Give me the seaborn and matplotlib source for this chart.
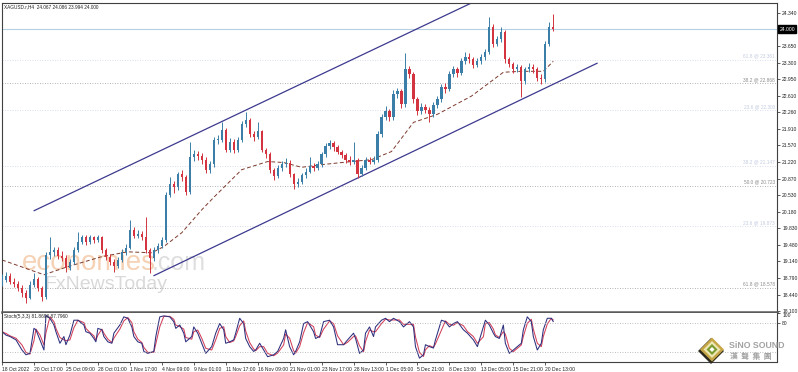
import numpy as np
import pandas as pd
import matplotlib
matplotlib.use("Agg")
import matplotlib.pyplot as plt
import matplotlib.transforms as mtransforms
from matplotlib.patches import Polygon
import seaborn as sns

# ---------------- data ----------------
header = "XAGUSD.r,H4  24.067 24.086 23.994 24.000"
stoch_title = "Stoch(5,3,3) 81.8698 87.7960"

first_open = 18.70
closes = [18.75, 18.84, 18.71, 18.67, 18.59, 18.48, 18.38, 18.65, 18.77, 18.59,
          18.40, 19.28, 19.34, 19.38, 19.26, 19.22, 19.01, 19.13, 19.38, 19.55,
          19.64, 19.55, 19.64, 19.59, 19.64, 19.38, 19.24, 19.13, 19.05, 19.17,
          19.34, 19.43, 19.80, 19.68, 19.72, 19.64, 19.38, 19.22, 19.38, 19.47,
          19.59, 20.54, 20.75, 20.69, 20.96, 20.90, 20.60, 21.32, 21.38, 21.34,
          21.27, 21.06, 21.17, 21.69, 21.69, 21.90, 21.48, 21.65, 21.48, 21.69,
          22.01, 22.11, 21.80, 21.74, 21.86, 21.48, 21.38, 21.06, 20.92, 21.10,
          21.17, 21.21, 20.96, 20.75, 20.81, 20.94, 21.02, 21.13, 21.10, 21.17,
          21.38, 21.55, 21.61, 21.53, 21.44, 21.36, 21.27, 21.23, 21.27, 20.96,
          21.10, 21.27, 21.23, 21.27, 21.80, 22.16, 22.28, 22.16, 22.64, 22.70,
          22.43, 23.16, 23.06, 22.53, 22.28, 22.37, 22.32, 22.22, 22.41, 22.53,
          22.79, 22.74, 23.06, 23.16, 23.08, 23.33, 23.42, 23.37, 23.25, 23.33,
          23.42, 23.52, 24.05, 23.69, 23.79, 23.94, 23.37, 23.27, 23.16, 23.21,
          22.91, 23.16, 23.21, 23.16, 22.99, 22.95, 23.69, 24.05, 24.00]
highs = [18.88, 18.92, 18.90, 18.80, 18.72, 18.64, 18.55, 18.72, 18.90, 18.82,
         18.63, 19.33, 19.66, 19.45, 19.44, 19.35, 19.28, 19.20, 19.44, 19.76,
         19.70, 19.70, 19.70, 19.68, 19.70, 19.68, 19.42, 19.30, 19.18, 19.24,
         19.40, 19.50, 20.00, 19.86, 19.80, 19.78, 20.07, 19.42, 19.44, 19.53,
         19.66, 20.60, 20.90, 20.82, 21.02, 21.05, 20.94, 21.63, 21.48, 21.45,
         21.40, 21.32, 21.24, 21.75, 21.78, 22.05, 21.94, 21.72, 21.70, 21.75,
         22.08, 22.26, 22.14, 21.86, 22.05, 21.90, 21.52, 21.42, 21.10, 21.16,
         21.24, 21.30, 21.26, 21.00, 20.88, 21.00, 21.10, 21.32, 21.20, 21.24,
         21.44, 21.62, 21.68, 21.66, 21.58, 21.48, 21.40, 21.34, 21.63, 21.30,
         21.16, 21.33, 21.33, 21.34, 21.86, 22.22, 22.40, 22.34, 22.72, 22.78,
         22.74, 23.50, 23.24, 23.10, 22.58, 22.45, 22.44, 22.38, 22.48, 22.60,
         22.86, 22.88, 23.12, 23.24, 23.22, 23.40, 23.52, 23.50, 23.42, 23.40,
         23.48, 23.58, 24.25, 24.10, 23.86, 24.05, 23.98, 23.42, 23.32, 23.28,
         23.25, 23.22, 23.30, 23.28, 23.22, 23.06, 23.75, 24.15, 24.32]
lows = [18.62, 18.70, 18.66, 18.60, 18.52, 18.40, 18.27, 18.35, 18.60, 18.52,
        18.30, 18.36, 19.20, 19.25, 19.20, 19.14, 18.92, 18.95, 19.08, 19.33,
        19.50, 19.48, 19.50, 19.52, 19.54, 19.32, 19.16, 19.06, 18.92, 19.00,
        19.12, 19.28, 19.40, 19.62, 19.63, 19.58, 19.32, 18.90, 19.15, 19.32,
        19.42, 19.55, 20.48, 20.58, 20.64, 20.82, 20.52, 20.56, 21.25, 21.26,
        21.18, 20.98, 21.00, 21.12, 21.60, 21.64, 21.42, 21.42, 21.40, 21.44,
        21.64, 21.96, 21.74, 21.66, 21.70, 21.42, 21.30, 20.98, 20.85, 20.88,
        21.04, 21.12, 20.90, 20.65, 20.70, 20.76, 20.88, 20.98, 21.04, 21.05,
        21.12, 21.33, 21.50, 21.46, 21.38, 21.30, 21.20, 21.16, 21.18, 20.88,
        20.92, 21.05, 21.17, 21.18, 21.22, 21.74, 22.10, 22.08, 22.10, 22.56,
        22.36, 22.38, 22.98, 22.46, 22.20, 22.22, 22.24, 22.05, 22.16, 22.36,
        22.48, 22.66, 22.70, 23.00, 23.00, 23.04, 23.28, 23.30, 23.18, 23.20,
        23.28, 23.36, 23.48, 23.62, 23.64, 23.74, 23.30, 23.20, 23.08, 23.10,
        22.58, 22.86, 23.10, 23.08, 22.92, 22.86, 22.90, 23.64, 23.96]
h4_per_candle = 2

ma_bar = [0, 21, 33, 50, 63, 75, 81, 90, 100, 106, 120, 133, 141, 150, 161,
          175, 185, 195, 206, 218, 235, 251, 260, 271, 276]
ma_val = [19.17, 18.86, 19.03, 19.24, 19.34, 19.32, 19.45, 19.74, 20.22, 20.48,
          21.06, 21.23, 21.21, 21.11, 21.17, 21.23, 21.27, 21.44, 22.05, 22.22,
          22.60, 23.10, 23.12, 23.12, 23.33]

stoch_bar = [0, 2, 4, 7, 10, 12, 14, 16, 17, 19, 21, 22, 24, 26, 27, 29, 31, 32, 34, 36,
             38, 41, 42, 44, 46, 47, 48, 50, 51, 53, 55, 56, 59, 61, 63, 65, 66, 68, 70, 71,
             73, 76, 77, 79, 81, 84, 86, 87, 89, 91, 92, 95, 96, 98, 100, 102, 105, 107, 109, 111,
             112, 114, 116, 117, 119, 121, 122, 124, 126, 127, 129, 131, 133, 136, 138, 141, 142, 144, 146, 147,
             149, 151, 153, 156, 157, 159, 161, 164, 166, 168, 171, 173, 176, 177, 179, 181, 182, 184, 186, 187,
             190, 192, 194, 196, 199, 201, 204, 206, 207, 209, 211, 212, 214, 216, 217, 220, 222, 224, 226, 228,
             231, 233, 236, 238, 241, 242, 244, 246, 247, 249, 251, 252, 254, 256, 258, 260, 261, 263, 265, 266,
             268, 270, 271, 273, 275, 276]
stoch_k = [62, 55, 52, 45, 24, 14, 17, 69, 66, 45, 24, 96, 90, 76, 62, 38, 52, 35, 55, 86,
           86, 76, 62, 59, 48, 41, 69, 66, 52, 41, 38, 59, 76, 93, 90, 72, 52, 41, 38, 21,
           17, 21, 52, 93, 95, 93, 83, 69, 76, 59, 41, 52, 72, 59, 38, 17, 31, 59, 79, 66,
           38, 41, 45, 59, 90, 79, 48, 31, 21, 24, 38, 24, 10, 14, 21, 48, 66, 31, 14, 21,
           41, 79, 83, 62, 48, 52, 83, 86, 72, 35, 35, 45, 59, 48, 17, 24, 59, 72, 52, 72,
           86, 90, 83, 90, 83, 72, 83, 72, 31, 7, 14, 35, 31, 28, 45, 86, 83, 72, 79, 83,
           66, 59, 45, 31, 72, 86, 76, 59, 52, 48, 76, 38, 17, 24, 31, 38, 66, 93, 83, 52,
           24, 38, 66, 90, 90, 83]
stoch_levels = [80, 20]

chan_upper_bar = [16, 235]
chan_upper_val = [20.20, 24.55]
chan_lower_bar = [76, 298]
chan_lower_val = [18.84, 23.29]

fib_dark_val = [22.868, 20.723, 18.578]
fib_dark_lbl = ["38.2 @ 22.868", "50.0 @ 20.723", "61.8 @ 18.578"]
fib_light_val = [23.361, 22.300, 21.147, 19.873]
fib_light_lbl = ["61.8 @ 23.361", "23.6 @ 22.300", "38.2 @ 21.147", "23.6 @ 19.873"]

price_ticks = [24.340, 23.650, 23.300, 22.950, 22.610, 22.260, 21.910, 21.570, 21.220,
               20.870, 20.530, 20.180, 19.830, 19.480, 19.140, 18.790, 18.440, 18.100]
bid_price = 24.000

date_tick_bar = [0, 16, 32, 48, 64, 80, 96, 112, 128, 144, 160, 176, 192, 208, 224, 240, 256, 272]
date_labels = ["18 Oct 2022", "20 Oct 17:00", "25 Oct 09:00", "28 Oct 01:00", "1 Nov 17:00",
               "4 Nov 09:00", "9 Nov 01:00", "11 Nov 17:00", "16 Nov 09:00", "21 Nov 01:00",
               "23 Nov 17:00", "28 Nov 13:00", "1 Dec 05:00", "5 Dec 21:00", "8 Dec 13:00",
               "13 Dec 05:00", "15 Dec 21:00", "20 Dec 13:00"]

# ---------------- style ----------------
sns.set_theme(style="white")
plt.rcParams['font.family'] = ['Liberation Sans', 'DejaVu Sans']
plt.rcParams['axes.edgecolor'] = '#404040'

W, H = 798, 372
fig = plt.figure(figsize=(W / 100, H / 100), dpi=100)
fig.patch.set_facecolor('white')


def fx(px):
    return px / W


def fy(py):
    return 1 - py / H


ax = fig.add_axes([fx(2), fy(312), fx(777) - fx(2), fy(3) - fy(312)])
ax2 = fig.add_axes([fx(2), fy(362), fx(777) - fx(2), fy(313) - fy(362)], sharex=ax)

bull, bear = '#3b7fa8', '#d3343f'
TICK_FS = 3.6

# ---------------- watermark (behind the candles) ----------------
ax.text(fx(22), fy(270), "economies", transform=fig.transFigure, ha='left', va='baseline',
        fontsize=20, color='#f2c39c', alpha=0.75, zorder=0.5)
ax.text(fx(152), fy(270), ".com", transform=fig.transFigure, ha='left', va='baseline',
        fontsize=18, color='#d6d6d6', alpha=0.8, zorder=0.5)
ax.text(fx(44), fy(289), "FxNewsToday", transform=fig.transFigure, ha='left', va='baseline',
        fontsize=14, color='#d0d0d0', alpha=0.8, zorder=0.5)

# ---------------- candles ----------------
n = len(closes)
opens = [first_open] + closes[:-1]
df = pd.DataFrame(dict(bar=np.arange(n) * h4_per_candle, open=opens, close=closes,
                       high=highs, low=lows))
up = (df.close >= df.open).to_numpy()
cols = np.where(up, bull, bear)
ax.vlines(df.bar, df.low, df.high, colors=cols, lw=0.7, zorder=3)
body = (df.close - df.open).abs().clip(lower=0.015)
ax.bar(df.bar, body, bottom=np.minimum(df.open, df.close), width=1.1,
       color=cols, linewidth=0, zorder=3)

# moving average (dashed)
ma_df = pd.DataFrame(dict(bar=ma_bar, val=ma_val))
sns.lineplot(data=ma_df, x='bar', y='val', ax=ax, color='#7d3a2c', lw=0.7,
             sort=False, estimator=None, zorder=2)
ax.lines[-1].set_linestyle((0, (4, 2.5)))

# channel lines
ax.plot(chan_upper_bar, chan_upper_val, color='#3d3a8f', lw=0.9, zorder=2)
ax.plot(chan_lower_bar, chan_lower_val, color='#3d3a8f', lw=0.9, zorder=2)

# fib levels
tr = mtransforms.blended_transform_factory(ax.transAxes, ax.transData)
for v, s in zip(fib_light_val, fib_light_lbl):
    ax.axhline(v, color='#ccd3e6', lw=0.6, ls=(0, (1, 2)), zorder=1)
    ax.text(0.997, v + 0.03, s, transform=tr, ha='right', va='bottom',
            fontsize=3.4, color='#c3cbe0')
for v, s in zip(fib_dark_val, fib_dark_lbl):
    ax.axhline(v, color='#9a9a9a', lw=0.6, ls=(0, (1, 2)), zorder=1)
    ax.text(0.997, v + 0.03, s, transform=tr, ha='right', va='bottom',
            fontsize=3.4, color='#8a8a8a')

# bid line
ax.axhline(bid_price, color='#b5d0e2', lw=0.8, zorder=1)
ax.text(1.003, bid_price, f"{bid_price:.3f}", transform=tr, ha='left', va='center',
        fontsize=TICK_FS, color='white',
        bbox=dict(boxstyle='square,pad=0.3', fc='black', ec='black'), zorder=5,
        clip_on=False)

ax.set_xlim(0, 388)
ax.set_ylim(18.08, 24.55)
ax.yaxis.tick_right()
ax.set_yticks(price_ticks)
ax.set_yticklabels([f"{t:.3f}" for t in price_ticks])
ax.tick_params(axis='y', labelsize=TICK_FS, length=2.5, width=0.6, pad=1.2,
               colors='#404040', labelcolor='#222222', right=True)
ax.tick_params(axis='x', bottom=False, labelbottom=False)
ax.set_xlabel('')
ax.set_ylabel('')
for sp in ax.spines.values():
    sp.set_linewidth(0.8)
ax.spines['bottom'].set_linewidth(1.8)
ax.spines['bottom'].set_color('#5a5a5a')

# ---------------- stochastic ----------------
st = pd.DataFrame(dict(bar=stoch_bar, k=stoch_k))
st['d'] = st['k'].rolling(2, min_periods=1).mean()
sns.lineplot(data=st, x='bar', y='d', ax=ax2, color='#d2405a', lw=0.75,
             sort=False, estimator=None)
sns.lineplot(data=st, x='bar', y='k', ax=ax2, color='#2d2f7d', lw=0.75,
             sort=False, estimator=None)
for lv in stoch_levels:
    ax2.axhline(lv, color='#a8a8a8', lw=0.6, ls=(0, (1, 2)))
ax2.set_ylim(-1, 101)
ax2.yaxis.tick_right()
ax2.set_yticks([100, 80])
ax2.set_yticklabels(['100', '80'])
ax2.tick_params(axis='y', labelsize=TICK_FS, length=2.5, width=0.6, pad=1.2,
                colors='#404040', labelcolor='#222222')
ax2.get_yticklabels()[0].set_va('top')
ax2.set_xticks(date_tick_bar)
ax2.set_xticklabels(date_labels, ha='left')
ax2.tick_params(axis='x', labelsize=TICK_FS, length=2.5, width=0.6, pad=1.2,
                colors='#404040', labelcolor='#222222', bottom=True)
ax2.set_xlabel('')
ax2.set_ylabel('')
ax2.spines['top'].set_visible(False)
for sp in ['left', 'right', 'bottom']:
    ax2.spines[sp].set_linewidth(0.8)
ax2.text(0.003, 0.97, stoch_title, transform=ax2.transAxes, ha='left', va='top',
         fontsize=3.4, color='#222222')

# ---------------- header & logo ----------------
fig.text(fx(4), fy(7), header, ha='left', va='center', fontsize=3.4, color='#222222')


def diamond(cx, cy, r, fc):
    pts = [(fx(cx), fy(cy - r)), (fx(cx + r), fy(cy)), (fx(cx), fy(cy + r)), (fx(cx - r), fy(cy))]
    fig.add_artist(Polygon(pts, closed=True, transform=fig.transFigure, fc=fc, ec='none', zorder=10))


diamond(711, 351, 13, '#2a2a1e')
diamond(712, 349.5, 12, '#c7a646')
diamond(712, 349.5, 8.5, '#ece7b4')
diamond(712, 349.5, 5.5, '#7d9c2f')
diamond(712, 349.5, 2.5, '#ffffff')
fig.text(fx(729), fy(345), "SiNO SOUND", ha='left', va='center', fontsize=6.3,
         weight='bold', color='#a2a2a2', zorder=10)
fig.text(fx(730), fy(356), "漢  聲  集  團", ha='left', va='center', fontsize=5.6,
         color='#a2a2a2', zorder=10,
         family=['Noto Sans CJK TC', 'DejaVu Sans'], weight='bold')

fig.savefig("out.png", dpi=100, facecolor='white')
